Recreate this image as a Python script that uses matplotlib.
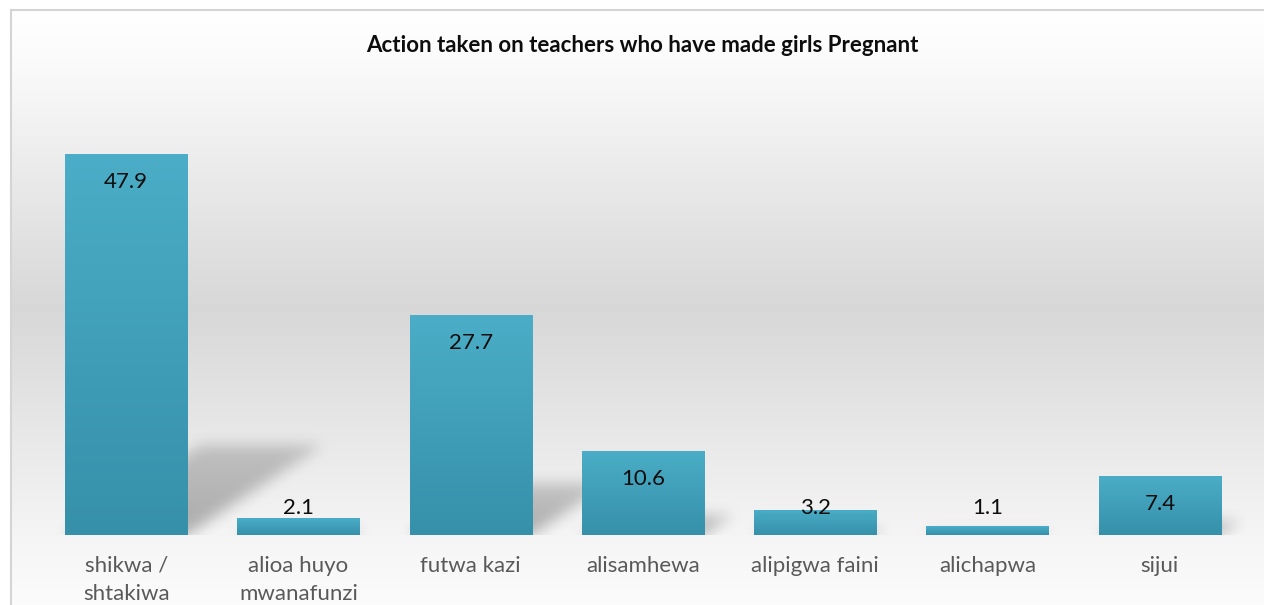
import numpy as np
import matplotlib
matplotlib.use("Agg")
import matplotlib.pyplot as plt
from matplotlib.colors import LinearSegmentedColormap
from matplotlib.lines import Line2D

categories = ["shikwa /\nshtakiwa", "alioa huyo\nmwanafunzi", "futwa kazi", "alisamhewa",
              "alipigwa faini", "alichapwa", "sijui"]
values = [47.9, 2.1, 27.7, 10.6, 3.2, 1.1, 7.4]
title = "Action taken on teachers who have made girls Pregnant"

W, H = 1264, 605
plt.rcParams["font.family"] = ["Lato", "DejaVu Sans"]

fig = plt.figure(figsize=(W / 100, H / 100), dpi=100)
fig.patch.set_facecolor("white")

# chart area background: white -> light gray -> white
bg = fig.add_axes([11 / W, 0, 1 - 11 / W, 1 - 10 / H], zorder=-2)
t = np.linspace(0, 1, 400)
stops_t = [0.0, 0.08, 0.5, 0.9, 1.0]
stops_v = [1.0, 0.985, 0.845, 0.965, 0.985]
shade = np.interp(t, stops_t, stops_v)
bg.imshow(np.dstack([shade, shade, shade]).reshape(400, 1, 3),
          aspect="auto", extent=[0, 1, 1, 0])
bg.set_axis_off()
fig.add_artist(Line2D([11 / W, 1], [1 - 10 / H, 1 - 10 / H], transform=fig.transFigure,
                      color="#d4d4d4", lw=1.5))
fig.add_artist(Line2D([11 / W, 11 / W], [0, 1 - 10 / H], transform=fig.transFigure,
                      color="#d4d4d4", lw=1.5))

ax = fig.add_axes([40 / W, 70 / H, 1206 / W, 477 / H])
ax.patch.set_alpha(0)
ymax = 60
xlo, xhi = -0.5, len(values) - 0.5
bw = 0.71
x = np.arange(len(values))

# perspective shadows behind bars
nx, ny = 1206, 477
gx = np.linspace(xlo, xhi, nx)
gy = np.linspace(0, ymax, ny)
X, Y = np.meshgrid(gx, gy)
k, c = 0.236, 0.0695
alpha = np.zeros_like(X)
for xi, v in zip(x, values):
    hh = k * v
    m = (Y <= hh) & (X >= xi - bw / 2 + c * Y) & (X <= xi + bw / 2 + c * Y)
    alpha = np.maximum(alpha, np.where(m, 0.3 * (1 - 0.4 * Y / max(hh, 1e-6)), 0))
kern = np.exp(-0.5 * (np.arange(-24, 25) / 7.0) ** 2)
kern /= kern.sum()
alpha = np.apply_along_axis(lambda r: np.convolve(r, kern, mode="same"), 1, alpha)
alpha = np.apply_along_axis(lambda r: np.convolve(r, kern, mode="same"), 0, alpha)
shadow = np.zeros((ny, nx, 4))
shadow[..., 3] = alpha
ax.imshow(shadow, extent=[xlo, xhi, 0, ymax], origin="lower", aspect="auto", zorder=1)

bars = ax.bar(x, values, width=bw, color="#4BACC6", zorder=2)
cmap = LinearSegmentedColormap.from_list("bar", ["#3690AA", "#4BADC7"])
grad = np.linspace(0, 1, 256).reshape(-1, 1)
for b in bars:
    im = ax.imshow(grad, cmap=cmap, origin="lower", aspect="auto", zorder=3,
                   extent=[b.get_x(), b.get_x() + b.get_width(), 0, b.get_height()])
    im.set_clip_path(b)

px = 477 / ymax
for xi, v in zip(x, values):
    ly = max(v - 28 / px, 27 / px)
    ax.text(xi, ly, f"{v:.1f}", ha="center", va="center", fontsize=16,
            color="#0d0d0d", zorder=5)

ax.set_xlim(xlo, xhi)
ax.set_ylim(0, ymax)
ax.set_xticks(x)
ax.set_xticklabels(categories, fontsize=16, color="#595959", linespacing=1.5)
ax.tick_params(axis="x", length=0, pad=15)
ax.set_yticks([])
for s in ax.spines.values():
    s.set_visible(False)

fig.text(642 / W, 1 - 45 / H, title, ha="center", va="center", fontsize=16,
         fontweight="bold", color="#0d0d0d")

fig.savefig("out.png", dpi=100)
